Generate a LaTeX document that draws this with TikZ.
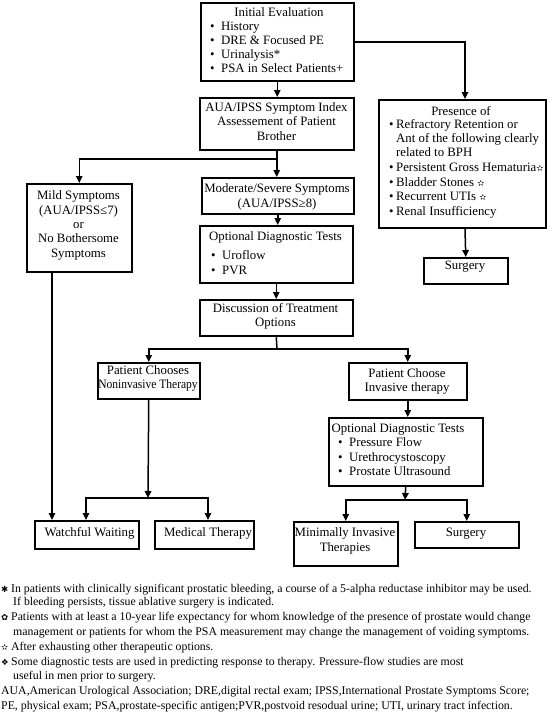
\documentclass[tikz,border=0pt]{standalone}
\usepackage{fontspec}
\setmainfont{Liberation Serif}
\newfontfamily\symfont{DejaVu Sans}
\usetikzlibrary{arrows.meta}
\newcommand{\fstar}{{\symfont\fontsize{8.5}{8}\selectfont ✫}}
\newcommand{\mybul}{\makebox[11pt][l]{•}}
\newcommand{\boxat}[5]{\node[box, anchor=north west, minimum width=#4pt, minimum height=#5pt] (#1) at (#2,#3) {};}
\begin{document}
\begin{tikzpicture}[x=1pt,y=-1pt,
  box/.style={draw, line width=1.5pt, inner sep=0pt},
  txt/.style={inner sep=0pt, font=\fontsize{12.8}{14}\selectfont},
  lt/.style={txt, anchor=mid west},
  ct/.style={txt, anchor=mid},
  fn/.style={inner sep=0pt, anchor=mid west, font=\fontsize{11.8}{12}\selectfont},
  fm/.style={inner sep=0pt, anchor=mid west, font=\symfont\fontsize{8.5}{8}\selectfont},
  conn/.style={line width=1.5pt},
  arr/.style={conn, -{Triangle[length=7pt,width=6.5pt]}},
]
\useasboundingbox (0,0) rectangle (553,713);
% boxes
\boxat{init}{200}{2}{153}{78}
\boxat{aua}{199}{97}{154}{52}
\boxat{mod}{201}{177}{152}{36}
\boxat{opt1}{199}{225}{153}{57}
\boxat{disc}{199}{299}{153}{36}
\boxat{mild}{26}{183}{105}{88}
\boxat{pres}{378}{99}{167}{128}
\boxat{surga}{423}{257}{84}{26}
\boxat{nonin}{97}{362}{102}{36}
\boxat{inv}{348}{362}{118}{37}
\boxat{opt2}{328}{417}{154}{68}
\boxat{ww}{34}{520}{104}{28}
\boxat{med}{154}{520}{99}{28}
\boxat{mit}{293}{521}{104}{44}
\boxat{surgb}{414}{521}{104}{26}
% texts
\node[ct] (t1) at (279,14) {Initial Evaluation};
\node[lt] (t1a) at (210,28) {\mybul History};
\node[lt] (t1b) at (210,42) {\mybul DRE \& Focused PE};
\node[lt] (t1c) at (210,56) {\mybul Urinalysis*};
\node[lt] (t1d) at (210,70) {\mybul PSA in Select Patients+};
\node[ct] (t2a) at (276.5,109) {AUA/IPSS Symptom Index};
\node[ct] (t2b) at (276.5,123) {Assessement of Patient};
\node[ct] (t2c) at (276.5,138) {Brother};
\node[ct] (t3a) at (277,190) {Moderate/Severe Symptoms};
\node[ct] (t3b) at (277,205) {(AUA/IPSS≥8)};
\node[ct] (t4) at (275.5,238) {Optional Diagnostic Tests};
\node[lt] (t4a) at (211,257) {\mybul Uroflow};
\node[lt] (t4b) at (211,272) {\mybul PVR};
\node[ct] (t5a) at (275.5,310) {Discussion of Treatment};
\node[ct] (t5b) at (275.5,324) {Options};
\node[ct] (t6a) at (78.5,197) {Mild Symptoms};
\node[ct] (t6b) at (78.5,212) {(AUA/IPSS≤7)};
\node[ct] (t6c) at (78.5,226) {or};
\node[ct] (t6d) at (78.5,240) {No Bothersome};
\node[ct] (t6e) at (78.5,255) {Symptoms};
\node[ct] (t7) at (461,113) {Presence of};
\node[lt] (t7a) at (389,126) {\makebox[7pt][l]{•}Refractory Retention or};
\node[lt] (t7b) at (396,140) {Ant of the following clearly};
\node[lt] (t7c) at (396,154) {related to BPH};
\node[lt] (t7d) at (389,169) {\makebox[7pt][l]{•}Persistent Gross Hematuria\fstar};
\node[lt] (t7e) at (389,184) {\makebox[7pt][l]{•}Bladder Stones \fstar};
\node[lt] (t7f) at (389,198) {\makebox[7pt][l]{•}Recurrent UTIs \fstar};
\node[lt] (t7g) at (389,213) {\makebox[7pt][l]{•}Renal Insufficiency};
\node[ct] (t8) at (465,267) {Surgery};
\node[ct] (t9a) at (148,372) {Patient Chooses};
\node[ct] (t9b) at (148,386) {\scalebox{0.9}[1]{Noninvasive Therapy}};
\node[ct] (t10a) at (407,375) {Patient Choose};
\node[ct] (t10b) at (407,389) {Invasive therapy};
\node[ct] (t11) at (398,430) {Optional Diagnostic Tests};
\node[lt] (t11a) at (338,444) {\mybul Pressure Flow};
\node[lt] (t11b) at (338,459) {\mybul Urethrocystoscopy};
\node[lt] (t11c) at (338,473) {\mybul Prostate Ultrasound};
\node[ct] (t12) at (89.5,534) {Watchful Waiting};
\node[ct] (t13) at (208,534) {Medical Therapy};
\node[ct] (t14a) at (345,534) {Minimally Invasive};
\node[ct] (t14b) at (345,549) {Therapies};
\node[ct] (t15) at (466,534) {Surgery};
% connectors
\coordinate (rx) at (465,0);
\coordinate (br) at (277,159);
\coordinate (ja) at (277,349);
\coordinate (jb) at (405,500);
\coordinate (jc) at (148,498);
\coordinate (wx) at (86,0);
\coordinate (mdx) at (208,0);
\coordinate (mx) at (52,0);
\draw[arr] (init.south) -- (init.south |- aua.north);
\draw[arr] (init.east) -| (rx |- pres.north);
\draw[arr] (aua.south) -- (aua.south |- mod.north);
\draw[arr] (br) -| (mild.north);
\draw[arr] (mod.south) -- (mod.south |- opt1.north);
\draw[arr] (opt1.south) -- (opt1.south |- disc.north);
\draw[conn] (disc.south) -- (ja);
\draw[arr] (ja) -| (nonin.north);
\draw[arr] (ja) -| (inv.north);
\draw[arr] (rx |- pres.south) -- (surga.north);
\draw[arr] (inv.south) -- (inv.south |- opt2.north);
\draw[arr] (opt2.south) -- (jb);
\draw[arr] (jb) -| (mit.north);
\draw[arr] (jb) -| (surgb.north);
\draw[arr] (nonin.south) -- (jc);
\draw[arr] (jc) -| (wx |- ww.north);
\draw[arr] (jc) -| (mdx |- med.north);
\draw[arr] (mx |- mild.south) -- (mx |- ww.north);
% footnotes
\node[fm] (m1) at (1,590) {✱};
\node[fn] (f1) at (11,590) {In patients with clinically significant prostatic bleeding, a course of a 5-alpha reductase inhibitor may be used.};
\node[fn] (f1b) at (13,603) {If bleeding persists, tissue ablative surgery is indicated.};
\node[fm] (m2) at (1,618) {✿};
\node[fn] (f2) at (11,618) {Patients with at least a 10-year life expectancy for whom knowledge of the presence of prostate would change};
\node[fn] (f2b) at (13,633) {management or patients for whom the PSA measurement may change the management of voiding symptoms.};
\node[fm] (m3) at (1,648) {✫};
\node[fn] (f3) at (11,648) {After exhausting other therapeutic options.};
\node[fm] (m4) at (1,663) {❖};
\node[fn] (f4) at (11,663) {Some diagnostic tests are used in predicting response to therapy. Pressure-flow studies are most};
\node[fn] (f4b) at (13,677) {useful in men prior to surgery.};
\node[fn] (f5) at (1,692) {AUA,American Urological Association; DRE,digital rectal exam; IPSS,International Prostate Symptoms Score;};
\node[fn] (f5b) at (1,707) {PE, physical exam; PSA,prostate-specific antigen;PVR,postvoid resodual urine; UTI, urinary tract infection.};
\end{tikzpicture}
\end{document}
